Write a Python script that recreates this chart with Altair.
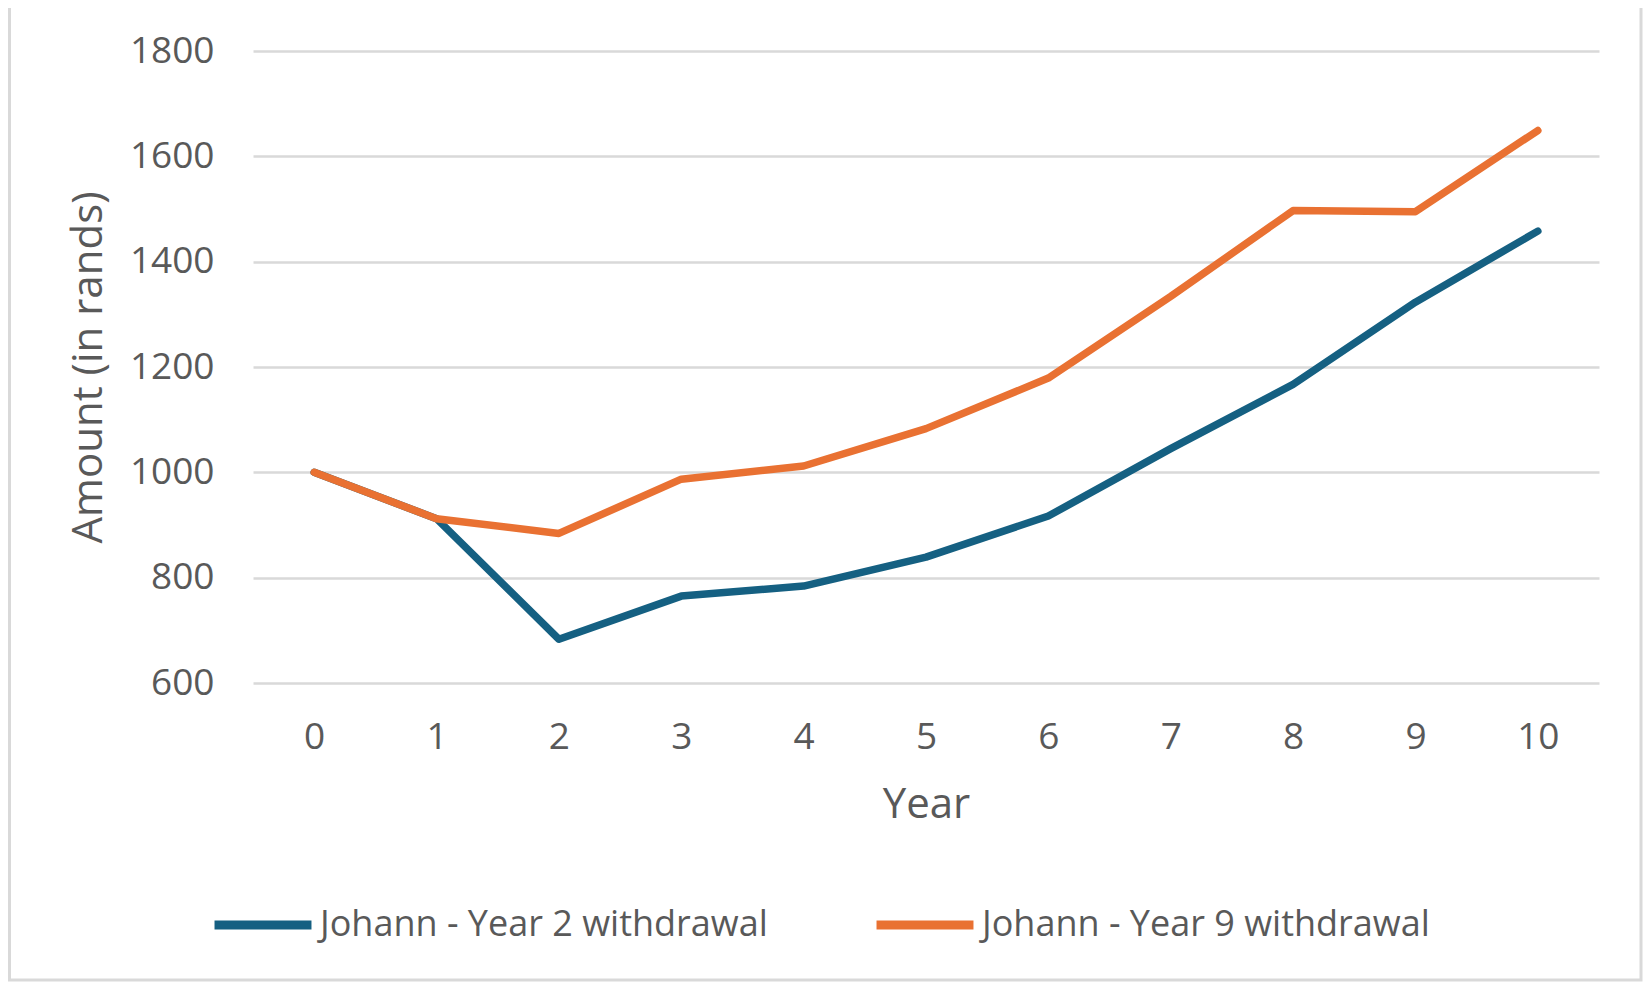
import altair as alt
import pandas as pd

years = [0, 1, 2, 3, 4, 5, 6, 7, 8, 9, 10]
series_names = ["Johann - Year 2 withdrawal", "Johann - Year 9 withdrawal"]
year2_values = [1000, 912, 683, 765, 784, 839, 917, 1045, 1167, 1323, 1458]
year9_values = [1000, 912, 884, 987, 1012, 1083, 1179, 1334, 1497, 1495, 1649]
y_ticks = [600, 800, 1000, 1200, 1400, 1600, 1800]
colors = ["#156082", "#E97132"]

rows = []
for name, vals in zip(series_names, [year2_values, year9_values]):
    for yr, v in zip(years, vals):
        rows.append({"Year": yr, "Amount": v, "Series": name})
df = pd.DataFrame(rows)

FONT = "Open Sans"
TXT = "#595959"

lines = alt.Chart(df).mark_line(strokeWidth=7.5, strokeCap="round", strokeJoin="round").encode(
    x=alt.X("Year:O",
            scale=alt.Scale(type="point", padding=0.5),
            sort=years,
            axis=alt.Axis(title="Year", labelAngle=0, domain=False, ticks=False, tickSize=0,
                          grid=False, labelFontSize=37, labelColor=TXT, labelFont=FONT,
                          labelBaseline="middle", labelPadding=54,
                          titleFontSize=42, titleColor=TXT, titleFont=FONT, titleFontWeight="normal",
                          titleBaseline="middle", titleY=121)),
    y=alt.Y("Amount:Q",
            scale=alt.Scale(domain=[600, 1800], nice=False, zero=False),
            axis=alt.Axis(title="Amount (in rands)", values=y_ticks, format="d",
                          domain=False, ticks=False, tickSize=0,
                          grid=True, gridColor="#d9d9d9", gridWidth=2.6,
                          labelFontSize=37, labelColor=TXT, labelFont=FONT, labelPadding=39,
                          labelBaseline="middle",
                          titleFontSize=42, titleColor=TXT, titleFont=FONT, titleFontWeight="normal",
                          titleAngle=270, titleBaseline="middle", titleAlign="center",
                          titleX=-165, titleY=316)),
    color=alt.Color("Series:N",
                    scale=alt.Scale(domain=series_names, range=colors),
                    legend=alt.Legend(title=None, orient="none", direction="horizontal",
                                      legendX=-43, legendY=821,
                                      symbolType="stroke", symbolSize=9400, symbolStrokeWidth=9,
                                      labelFontSize=36, labelColor=TXT, labelFont=FONT,
                                      labelOffset=4, columnPadding=90, padding=0,
                                      labelLimit=800)),
)

frame = alt.Chart(pd.DataFrame({"a": [0]})).mark_rect(
    fill="transparent", stroke="#d9d9d9", strokeWidth=3
).encode(
    x=alt.value(-243.5), x2=alt.value(1388),
    y=alt.value(-49.5), y2=alt.value(929),
)

chart = alt.layer(frame, lines).properties(
    width=1346, height=632,
    background="white",
    autosize=alt.AutoSizeParams(type="none"),
    padding={"left": 245, "top": 43, "right": 44, "bottom": 300},
).configure_view(stroke=None)

chart.save("out.html", embed_options={"renderer": "svg", "actions": False})
